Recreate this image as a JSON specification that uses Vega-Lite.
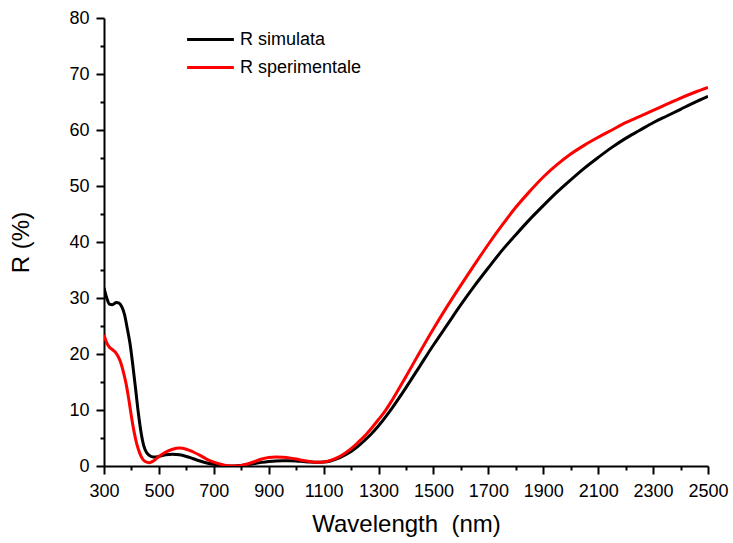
{
  "$schema": "https://vega.github.io/schema/vega-lite/v6.json",
  "width": 604,
  "height": 448,
  "autosize": "none",
  "padding": {"left": 104, "top": 18, "right": 25, "bottom": 77},
  "background": "white",
  "config": {
    "view": {"stroke": null},
    "font": "Liberation Sans",
    "axis": {
      "grid": false,
      "ticks": true,
      "domainColor": "black",
      "domainWidth": 2,
      "tickColor": "black",
      "tickWidth": 2,
      "labelColor": "black",
      "labelFont": "Liberation Sans",
      "labelFontSize": 18,
      "titleFont": "Liberation Sans",
      "titleFontSize": 24,
      "titleFontWeight": "normal",
      "titleColor": "black"
    }
  },
  "data": {
    "values": [
      {"wl": 300, "R": 31.8, "s": "R simulata"},
      {"wl": 310, "R": 30.0, "s": "R simulata"},
      {"wl": 320, "R": 28.9, "s": "R simulata"},
      {"wl": 330, "R": 28.8, "s": "R simulata"},
      {"wl": 345, "R": 29.2, "s": "R simulata"},
      {"wl": 355, "R": 29.1, "s": "R simulata"},
      {"wl": 365, "R": 28.4, "s": "R simulata"},
      {"wl": 375, "R": 27.0, "s": "R simulata"},
      {"wl": 385, "R": 24.5, "s": "R simulata"},
      {"wl": 395, "R": 21.8, "s": "R simulata"},
      {"wl": 405, "R": 18.0, "s": "R simulata"},
      {"wl": 415, "R": 13.8, "s": "R simulata"},
      {"wl": 425, "R": 9.5, "s": "R simulata"},
      {"wl": 435, "R": 6.0, "s": "R simulata"},
      {"wl": 445, "R": 3.6, "s": "R simulata"},
      {"wl": 455, "R": 2.4, "s": "R simulata"},
      {"wl": 465, "R": 1.9, "s": "R simulata"},
      {"wl": 480, "R": 1.6, "s": "R simulata"},
      {"wl": 500, "R": 1.7, "s": "R simulata"},
      {"wl": 525, "R": 2.0, "s": "R simulata"},
      {"wl": 550, "R": 2.1, "s": "R simulata"},
      {"wl": 575, "R": 2.0, "s": "R simulata"},
      {"wl": 600, "R": 1.7, "s": "R simulata"},
      {"wl": 625, "R": 1.3, "s": "R simulata"},
      {"wl": 650, "R": 0.9, "s": "R simulata"},
      {"wl": 675, "R": 0.55, "s": "R simulata"},
      {"wl": 700, "R": 0.3, "s": "R simulata"},
      {"wl": 725, "R": 0.1, "s": "R simulata"},
      {"wl": 750, "R": 0.0, "s": "R simulata"},
      {"wl": 775, "R": 0.0, "s": "R simulata"},
      {"wl": 800, "R": 0.1, "s": "R simulata"},
      {"wl": 825, "R": 0.25, "s": "R simulata"},
      {"wl": 850, "R": 0.45, "s": "R simulata"},
      {"wl": 875, "R": 0.65, "s": "R simulata"},
      {"wl": 900, "R": 0.8, "s": "R simulata"},
      {"wl": 925, "R": 0.9, "s": "R simulata"},
      {"wl": 950, "R": 0.95, "s": "R simulata"},
      {"wl": 975, "R": 0.95, "s": "R simulata"},
      {"wl": 1000, "R": 0.9, "s": "R simulata"},
      {"wl": 1025, "R": 0.8, "s": "R simulata"},
      {"wl": 1050, "R": 0.7, "s": "R simulata"},
      {"wl": 1075, "R": 0.65, "s": "R simulata"},
      {"wl": 1100, "R": 0.7, "s": "R simulata"},
      {"wl": 1125, "R": 0.9, "s": "R simulata"},
      {"wl": 1150, "R": 1.3, "s": "R simulata"},
      {"wl": 1175, "R": 1.9, "s": "R simulata"},
      {"wl": 1200, "R": 2.6, "s": "R simulata"},
      {"wl": 1225, "R": 3.5, "s": "R simulata"},
      {"wl": 1250, "R": 4.6, "s": "R simulata"},
      {"wl": 1275, "R": 5.8, "s": "R simulata"},
      {"wl": 1300, "R": 7.2, "s": "R simulata"},
      {"wl": 1350, "R": 10.4, "s": "R simulata"},
      {"wl": 1400, "R": 14.0, "s": "R simulata"},
      {"wl": 1450, "R": 17.8, "s": "R simulata"},
      {"wl": 1500, "R": 21.6, "s": "R simulata"},
      {"wl": 1550, "R": 25.2, "s": "R simulata"},
      {"wl": 1600, "R": 28.8, "s": "R simulata"},
      {"wl": 1650, "R": 32.2, "s": "R simulata"},
      {"wl": 1700, "R": 35.4, "s": "R simulata"},
      {"wl": 1750, "R": 38.5, "s": "R simulata"},
      {"wl": 1800, "R": 41.3, "s": "R simulata"},
      {"wl": 1850, "R": 44.0, "s": "R simulata"},
      {"wl": 1900, "R": 46.5, "s": "R simulata"},
      {"wl": 1950, "R": 48.9, "s": "R simulata"},
      {"wl": 2000, "R": 51.1, "s": "R simulata"},
      {"wl": 2050, "R": 53.2, "s": "R simulata"},
      {"wl": 2100, "R": 55.1, "s": "R simulata"},
      {"wl": 2150, "R": 56.9, "s": "R simulata"},
      {"wl": 2200, "R": 58.5, "s": "R simulata"},
      {"wl": 2250, "R": 59.9, "s": "R simulata"},
      {"wl": 2300, "R": 61.3, "s": "R simulata"},
      {"wl": 2350, "R": 62.5, "s": "R simulata"},
      {"wl": 2400, "R": 63.7, "s": "R simulata"},
      {"wl": 2450, "R": 64.9, "s": "R simulata"},
      {"wl": 2500, "R": 66.0, "s": "R simulata"},
      {"wl": 300, "R": 23.4, "s": "R sperimentale"},
      {"wl": 310, "R": 22.0, "s": "R sperimentale"},
      {"wl": 320, "R": 21.2, "s": "R sperimentale"},
      {"wl": 330, "R": 20.8, "s": "R sperimentale"},
      {"wl": 340, "R": 20.4, "s": "R sperimentale"},
      {"wl": 350, "R": 19.7, "s": "R sperimentale"},
      {"wl": 360, "R": 18.6, "s": "R sperimentale"},
      {"wl": 370, "R": 16.9, "s": "R sperimentale"},
      {"wl": 380, "R": 14.8, "s": "R sperimentale"},
      {"wl": 390, "R": 12.0, "s": "R sperimentale"},
      {"wl": 400, "R": 8.8, "s": "R sperimentale"},
      {"wl": 410, "R": 6.0, "s": "R sperimentale"},
      {"wl": 420, "R": 3.8, "s": "R sperimentale"},
      {"wl": 430, "R": 2.3, "s": "R sperimentale"},
      {"wl": 440, "R": 1.3, "s": "R sperimentale"},
      {"wl": 450, "R": 0.8, "s": "R sperimentale"},
      {"wl": 465, "R": 0.6, "s": "R sperimentale"},
      {"wl": 480, "R": 0.9, "s": "R sperimentale"},
      {"wl": 500, "R": 1.7, "s": "R sperimentale"},
      {"wl": 525, "R": 2.5, "s": "R sperimentale"},
      {"wl": 550, "R": 3.0, "s": "R sperimentale"},
      {"wl": 575, "R": 3.2, "s": "R sperimentale"},
      {"wl": 600, "R": 3.0, "s": "R sperimentale"},
      {"wl": 625, "R": 2.5, "s": "R sperimentale"},
      {"wl": 650, "R": 1.9, "s": "R sperimentale"},
      {"wl": 675, "R": 1.2, "s": "R sperimentale"},
      {"wl": 700, "R": 0.7, "s": "R sperimentale"},
      {"wl": 725, "R": 0.3, "s": "R sperimentale"},
      {"wl": 750, "R": 0.05, "s": "R sperimentale"},
      {"wl": 775, "R": 0.0, "s": "R sperimentale"},
      {"wl": 800, "R": 0.1, "s": "R sperimentale"},
      {"wl": 825, "R": 0.4, "s": "R sperimentale"},
      {"wl": 850, "R": 0.8, "s": "R sperimentale"},
      {"wl": 862, "R": 1.05, "s": "R sperimentale"},
      {"wl": 875, "R": 1.25, "s": "R sperimentale"},
      {"wl": 900, "R": 1.5, "s": "R sperimentale"},
      {"wl": 925, "R": 1.6, "s": "R sperimentale"},
      {"wl": 950, "R": 1.55, "s": "R sperimentale"},
      {"wl": 975, "R": 1.45, "s": "R sperimentale"},
      {"wl": 1000, "R": 1.25, "s": "R sperimentale"},
      {"wl": 1025, "R": 1.0, "s": "R sperimentale"},
      {"wl": 1050, "R": 0.8, "s": "R sperimentale"},
      {"wl": 1075, "R": 0.65, "s": "R sperimentale"},
      {"wl": 1100, "R": 0.7, "s": "R sperimentale"},
      {"wl": 1125, "R": 1.0, "s": "R sperimentale"},
      {"wl": 1150, "R": 1.5, "s": "R sperimentale"},
      {"wl": 1175, "R": 2.2, "s": "R sperimentale"},
      {"wl": 1200, "R": 3.1, "s": "R sperimentale"},
      {"wl": 1225, "R": 4.2, "s": "R sperimentale"},
      {"wl": 1250, "R": 5.4, "s": "R sperimentale"},
      {"wl": 1275, "R": 6.8, "s": "R sperimentale"},
      {"wl": 1300, "R": 8.3, "s": "R sperimentale"},
      {"wl": 1325, "R": 9.9, "s": "R sperimentale"},
      {"wl": 1350, "R": 11.8, "s": "R sperimentale"},
      {"wl": 1400, "R": 16.0, "s": "R sperimentale"},
      {"wl": 1450, "R": 20.3, "s": "R sperimentale"},
      {"wl": 1500, "R": 24.5, "s": "R sperimentale"},
      {"wl": 1550, "R": 28.5, "s": "R sperimentale"},
      {"wl": 1600, "R": 32.3, "s": "R sperimentale"},
      {"wl": 1650, "R": 36.0, "s": "R sperimentale"},
      {"wl": 1700, "R": 39.6, "s": "R sperimentale"},
      {"wl": 1750, "R": 43.0, "s": "R sperimentale"},
      {"wl": 1800, "R": 46.2, "s": "R sperimentale"},
      {"wl": 1850, "R": 49.0, "s": "R sperimentale"},
      {"wl": 1900, "R": 51.6, "s": "R sperimentale"},
      {"wl": 1950, "R": 53.8, "s": "R sperimentale"},
      {"wl": 2000, "R": 55.7, "s": "R sperimentale"},
      {"wl": 2050, "R": 57.3, "s": "R sperimentale"},
      {"wl": 2100, "R": 58.7, "s": "R sperimentale"},
      {"wl": 2150, "R": 60.0, "s": "R sperimentale"},
      {"wl": 2200, "R": 61.3, "s": "R sperimentale"},
      {"wl": 2250, "R": 62.4, "s": "R sperimentale"},
      {"wl": 2300, "R": 63.5, "s": "R sperimentale"},
      {"wl": 2350, "R": 64.6, "s": "R sperimentale"},
      {"wl": 2400, "R": 65.7, "s": "R sperimentale"},
      {"wl": 2450, "R": 66.7, "s": "R sperimentale"},
      {"wl": 2500, "R": 67.6, "s": "R sperimentale"}
    ]
  },
  "resolve": {"axis": {"x": "independent", "y": "independent"}},
  "layer": [
    {
      "transform": [{"filter": "datum.s === 'R simulata'"}],
      "mark": {"type": "line", "strokeWidth": 3, "interpolate": "monotone", "clip": true},
      "encoding": {
        "x": {
          "field": "wl",
          "type": "quantitative",
          "scale": {"domain": [300, 2500], "nice": false, "zero": false},
          "axis": {
            "orient": "bottom",
            "title": "Wavelength\u00a0\u00a0(nm)",
            "values": [300, 500, 700, 900, 1100, 1300, 1500, 1700, 1900, 2100, 2300, 2500],
            "format": "d",
            "tickSize": 8,
            "labelPadding": 8,
            "labelFlush": false,
            "labelOverlap": false,
            "titlePadding": 12
          }
        },
        "y": {
          "field": "R",
          "type": "quantitative",
          "scale": {"domain": [0, 80], "nice": false},
          "axis": {
            "orient": "left",
            "title": "R (%)",
            "values": [0, 10, 20, 30, 40, 50, 60, 70, 80],
            "tickSize": 8,
            "labelPadding": 7,
            "labelFlush": false,
            "labelOverlap": false,
            "titlePadding": 35
          }
        },
        "color": {
          "field": "s",
          "type": "nominal",
          "scale": {"domain": ["R simulata", "R sperimentale"], "range": ["#000000", "#ff0000"]},
          "legend": {
            "title": null,
            "orient": "none",
            "legendX": 96,
            "legendY": 11,
            "padding": 0,
            "symbolType": "M-2.6,0H2.6",
            "symbolSize": 324,
            "symbolStrokeWidth": 3,
            "labelFont": "Liberation Sans",
            "labelFontSize": 18,
            "labelColor": "black",
            "labelOffset": 19,
            "rowPadding": 8
          }
        }
      }
    },
    {
      "transform": [{"filter": "datum.s === 'R sperimentale'"}],
      "mark": {"type": "line", "strokeWidth": 3, "interpolate": "monotone", "clip": true},
      "encoding": {
        "x": {
          "field": "wl",
          "type": "quantitative",
          "axis": {
            "orient": "bottom",
            "title": null,
            "domain": false,
            "labels": false,
            "values": [400, 600, 800, 1000, 1200, 1400, 1600, 1800, 2000, 2200, 2400],
            "tickSize": 4
          }
        },
        "y": {
          "field": "R",
          "type": "quantitative",
          "axis": {
            "orient": "left",
            "title": null,
            "domain": false,
            "labels": false,
            "values": [5, 15, 25, 35, 45, 55, 65, 75],
            "tickSize": 4
          }
        },
        "color": {"field": "s", "type": "nominal"}
      }
    }
  ]
}
